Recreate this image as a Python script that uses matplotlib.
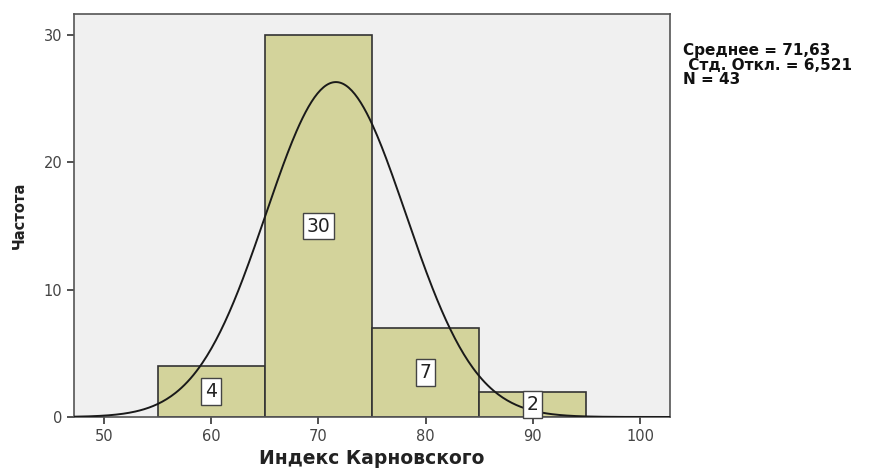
import numpy as np
import matplotlib
matplotlib.use("Agg")
import matplotlib.pyplot as plt

plt.rcParams['font.family'] = ['DejaVu Sans']

# Histogram data
bin_edges = [55, 65, 75, 85, 95]
counts = [4, 30, 7, 2]
mean_val = 71.63
std_val = 6.521
n_total = 43
xticks = [50, 60, 70, 80, 90, 100]
yticks = [0, 10, 20, 30]


def comma(v, nd):
    return f'{v:.{nd}f}'.replace('.', ',')


fig = plt.figure(figsize=(8.83, 4.68), dpi=100)
ax = fig.add_axes([0.0838, 0.109, 0.675, 0.861])
ax.set_facecolor('#f0f0f0')

widths = np.diff(bin_edges)
lefts = np.array(bin_edges[:-1])
ax.bar(lefts, counts, width=widths, align='edge', color='#d3d39b',
       edgecolor='#333333', linewidth=1.2, zorder=2)

# Normal curve scaled to counts
xs = np.linspace(47.2, 102.8, 400)
bw = widths[0]
ys = n_total * bw / (std_val * np.sqrt(2 * np.pi)) * np.exp(-0.5 * ((xs - mean_val) / std_val) ** 2)
ax.plot(xs, ys, color='#1a1a1a', linewidth=1.4, zorder=3)

# Count labels in the middle of each bar
for l, w, c in zip(lefts, widths, counts):
    ax.text(l + w / 2, c / 2, str(c), ha='center', va='center', fontsize=13.5,
            color='#222222', zorder=4,
            bbox=dict(boxstyle='square,pad=0.2', facecolor='white',
                      edgecolor='#444444', linewidth=1))

ax.set_xlim(47.2, 102.8)
ax.set_ylim(0, 31.65)
ax.set_xticks(xticks)
ax.set_yticks(yticks)
ax.tick_params(axis='both', direction='out', length=5, width=1.2,
               colors='#333333', labelsize=10.5, labelcolor='#444444')
for sp in ax.spines.values():
    sp.set_color('#555555')
    sp.set_linewidth(1.2)

ax.set_xlabel('Индекс Карновского', fontsize=13.5, fontweight='bold',
              color='#222222', labelpad=4)
ax.set_ylabel('Частота', fontsize=10.5, fontweight='bold', color='#222222',
              labelpad=12)

# Summary statistics beside the plot
stats_lines = [f'Среднее = {comma(mean_val, 2)}',
               f' Стд. Откл. = {comma(std_val, 3)}',
               f'N = {n_total}']
for i, line in enumerate(stats_lines):
    fig.text(0.773, 1 - (50 + 15 * i) / 468, line, fontsize=11,
             fontweight='bold', color='#111111', va='center')

fig.savefig('out.png', dpi=100, facecolor='white')
